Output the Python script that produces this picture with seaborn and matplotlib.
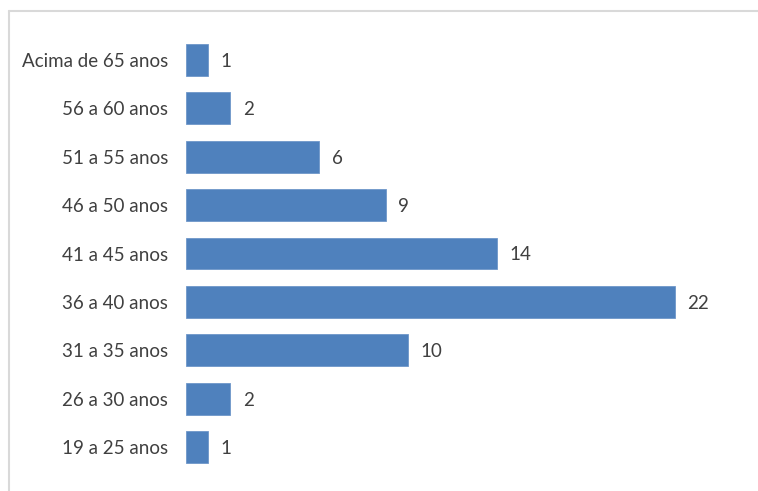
import matplotlib
matplotlib.use('Agg')
import matplotlib.pyplot as plt
import seaborn as sns
import pandas as pd
from matplotlib.lines import Line2D

faixas = ['Acima de 65 anos', '56 a 60 anos', '51 a 55 anos', '46 a 50 anos',
          '41 a 45 anos', '36 a 40 anos', '31 a 35 anos', '26 a 30 anos',
          '19 a 25 anos']
valores = [1, 2, 6, 9, 14, 22, 10, 2, 1]

df = pd.DataFrame({'faixa': faixas, 'n': valores})

sns.set_style('white')
plt.rcParams['font.family'] = ['Lato', 'DejaVu Sans']

fig = plt.figure(figsize=(7.58, 4.91), dpi=100)
ax = fig.add_axes([0.2454, 0.0403, 0.9785 - 0.2454, 0.927 - 0.0403])

sns.barplot(data=df, x='n', y='faixa', orient='h', color='#4F81BD',
            saturation=1, width=0.66, ax=ax)
for b in ax.patches:
    b.set_edgecolor('#6f97c9')
    b.set_linewidth(0.6)

for i, v in enumerate(valores):
    ax.text(v + 0.55, i + 0.03, str(v), va='center', ha='left', fontsize=13.5,
            color='#404040')

ax.set_xlim(0, 25)
ax.set_ylim(8.5, -0.5)
ax.set_xlabel('')
ax.set_ylabel('')
ax.set_xticks([])
ax.tick_params(axis='y', length=0, pad=13, labelsize=13.5, labelcolor='#404040')
sns.despine(ax=ax, left=True, bottom=True)

fig.add_artist(Line2D([9 / 758, 1], [1 - 11 / 491, 1 - 11 / 491],
                      color='#D9D9D9', lw=1.5, transform=fig.transFigure))
fig.add_artist(Line2D([9 / 758, 9 / 758], [1 - 11 / 491, 0],
                      color='#D9D9D9', lw=1.5, transform=fig.transFigure))

fig.savefig('out.png', dpi=100)
